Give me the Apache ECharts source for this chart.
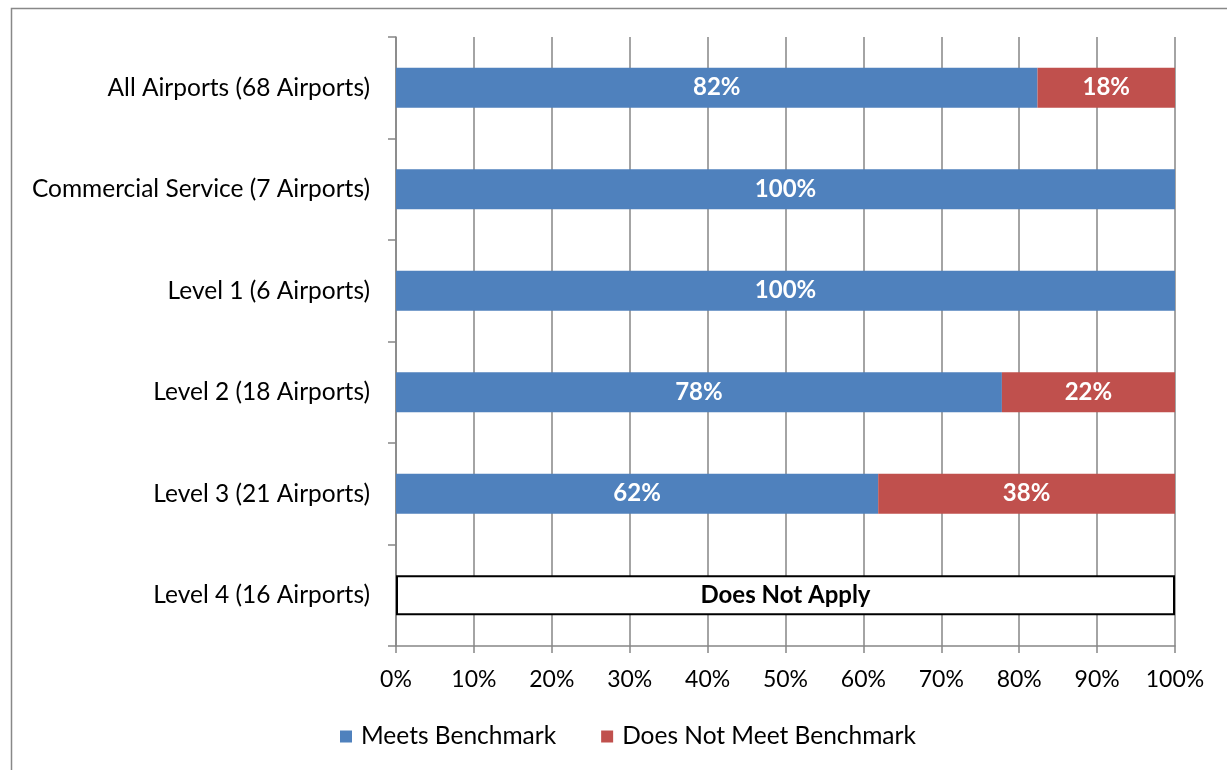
<!DOCTYPE html>
<html><head><meta charset="utf-8">
<script src="https://cdn.jsdelivr.net/npm/echarts@6/dist/echarts.min.js"></script>
<style>html,body{margin:0;padding:0;background:#fff}#c{width:1227px;height:770px}</style>
</head><body><div id="c"></div>
<script>
const categories = ['All Airports (68 Airports)','Commercial Service (7 Airports)','Level 1 (6 Airports)','Level 2 (18 Airports)','Level 3 (21 Airports)','Level 4 (16 Airports)'];
const meets = [82.35, 100, 100, 77.78, 61.9, '-'];
const notMeet = [17.65, '-', '-', 22.22, 38.1, '-'];
const notApply = ['-', '-', '-', '-', '-', 100];
const tickLabels = ['0%','10%','20%','30%','40%','50%','60%','70%','80%','90%','100%'];
const FONT = 'Lato';
const chart = echarts.init(document.getElementById('c'));
const pctLabel = {show:true, position:'inside', color:'#fff', fontWeight:'bold', fontSize:24, fontFamily:FONT,
  formatter: p => Math.round(p.value) + '%'};
chart.setOption({
  animation:false,
  textStyle:{fontFamily:FONT},
  graphic:[{type:'rect', shape:{x:11.5,y:8.5,width:1400,height:900}, style:{fill:'none', stroke:'#888', lineWidth:1.5}, silent:true}],
  grid:{left:396, right:52, top:37, bottom:124, containLabel:false},
  legend:{data:['Meets Benchmark','Does Not Meet Benchmark'], top:719, left:335, icon:'rect', itemWidth:12, itemHeight:12, itemGap:45,
    textStyle:{fontSize:24.5, color:'#000', fontFamily:FONT, padding:[0,0,0,4]}},
  xAxis:{type:'value', min:0, max:100, interval:10,
    axisLine:{show:true, lineStyle:{color:'#868686', width:1.5}},
    axisTick:{show:true, length:7, lineStyle:{color:'#868686', width:1.5}},
    splitLine:{show:true, lineStyle:{color:'#868686', width:1.5}},
    axisLabel:{color:'#000', fontSize:23, margin:22, fontFamily:FONT, formatter: v => tickLabels[Math.round(v/10)]}},
  yAxis:{type:'category', data:categories, inverse:true,
    axisLine:{show:true, lineStyle:{color:'#868686', width:1.5}},
    axisTick:{show:true, length:8, lineStyle:{color:'#868686', width:1.5}},
    axisLabel:{color:'#000', fontSize:24.5, margin:26, fontFamily:FONT}},
  series:[
    {name:'Meets Benchmark', type:'bar', stack:'s', data:meets, barWidth:40, itemStyle:{color:'#4F81BD'}, label:pctLabel},
    {name:'Does Not Meet Benchmark', type:'bar', stack:'s', data:notMeet, barWidth:40, itemStyle:{color:'#C0504D'}, label:pctLabel},
    {name:'Does Not Apply', type:'bar', stack:'s', data:notApply, barWidth:40, itemStyle:{color:'#fff', borderColor:'#000', borderWidth:2},
      label:{show:true, position:'inside', color:'#000', fontWeight:'bold', fontSize:24, fontFamily:FONT, formatter:'Does Not Apply'}}
  ]
});
</script></body></html>
